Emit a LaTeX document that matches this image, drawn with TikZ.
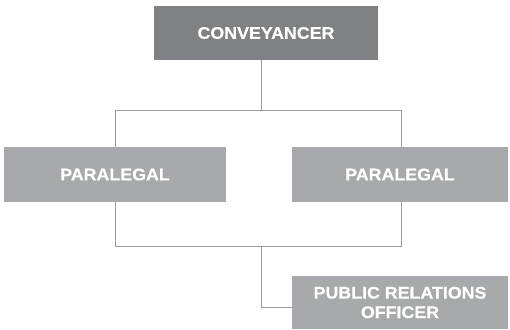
\documentclass[tikz,border=0pt]{standalone}
\usepackage{fontspec}
\setmainfont{Liberation Sans}[FakeStretch=1.06,BoldFeatures={FakeBold=0.4}]
\definecolor{darkbox}{HTML}{808184}
\definecolor{lightbox}{HTML}{A7A9AC}
\definecolor{linegray}{HTML}{9C9C9C}
\begin{document}
\begin{tikzpicture}[x=1pt,y=-1pt,
  box/.style={inner sep=0pt,outer sep=0pt,anchor=north west,text=white,align=center,
    font=\bfseries\fontsize{16.8}{19.5}\selectfont},
  conn/.style={draw=linegray,line width=1pt}]
\useasboundingbox (0,0) rectangle (510,329);
\node[box,fill=darkbox,minimum width=224pt,minimum height=54pt] (top) at (154,6) {CONVEYANCER};
\node[box,fill=lightbox,minimum width=222pt,minimum height=55pt] (pl) at (4,147) {PARALEGAL};
\node[box,fill=lightbox,minimum width=216pt,minimum height=55pt] (pr) at (292,147) {PARALEGAL};
\node[box,fill=lightbox,minimum width=216pt,minimum height=53pt] (pro) at (292,276) {PUBLIC RELATIONS\\OFFICER};
\coordinate (hl) at (115,110);
\coordinate (hr) at (401,110);
\coordinate (bl) at (115,246);
\coordinate (br) at (401,246);
\coordinate (bm) at (261,246);
\coordinate (bk) at (261,307);
\draw[conn] (top.south -| bm) -- (bm |- hl);
\draw[conn] (hl |- pl.north) -- (hl) -- (hr) -- (hr |- pr.north);
\draw[conn] (bl |- pl.south) -- (bl) -- (br) -- (br |- pr.south);
\draw[conn] (bm) -- (bk) -- (bk -| pro.west);
\end{tikzpicture}
\end{document}
